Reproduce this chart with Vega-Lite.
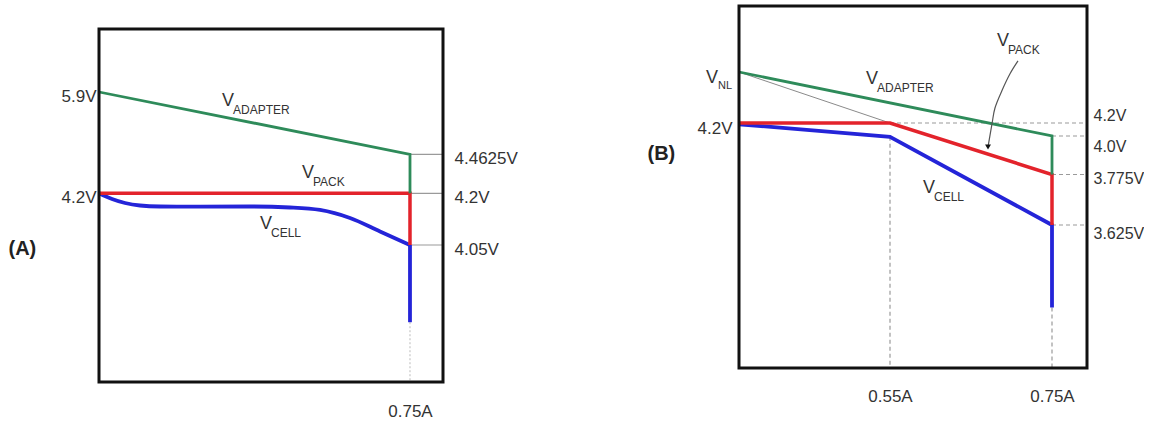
{
  "$schema": "https://vega.github.io/schema/vega-lite/v6.json",
  "padding": {"left": 8, "top": 4, "right": 0, "bottom": 0},
  "background": "white",
  "spacing": 296,
  "bounds": "flush",
  "config": {
    "font": "Liberation Sans, Arial, sans-serif",
    "view": {"stroke": null},
    "axis": {"domain": false, "ticks": false, "tickSize": 0, "grid": false, "labelFontSize": 17, "labelColor": "#333", "labelOverlap": false, "labelFlush": false, "titleColor": "#222"},
    "text": {"color": "#333"}
  },
  "datasets": {
    "frameA": [{"I": 0, "I2": 0.8296, "V": 3.5, "V2": 6.5}],
    "frameB": [{"I": 0, "I2": 0.8, "V": 3.2, "V2": 5.0}],
    "guidesA": [
      {"I": 0.75, "I2": 0.8296, "V": 4.4625, "V2": 4.4625},
      {"I": 0.75, "I2": 0.8296, "V": 4.2, "V2": 4.2},
      {"I": 0.75, "I2": 0.8296, "V": 4.05, "V2": 4.05}
    ],
    "guidesAdot": [{"I": 0.75, "I2": 0.75, "V": 3.74, "V2": 3.5}],
    "guidesB": [
      {"I": 0.55, "I2": 0.8, "V": 4.2, "V2": 4.2},
      {"I": 0.75, "I2": 0.8, "V": 4.0, "V2": 4.0},
      {"I": 0.75, "I2": 0.8, "V": 3.775, "V2": 3.775},
      {"I": 0.75, "I2": 0.8, "V": 3.625, "V2": 3.625},
      {"I": 0.55, "I2": 0.55, "V": 3.995, "V2": 3.2},
      {"I": 0.75, "I2": 0.75, "V": 3.38, "V2": 3.2}
    ],
    "guidesBsolid": [{"I": 0, "I2": 0.55, "V": 4.6, "V2": 4.2}],
    "linesA": [
      {"s": "adapter", "i": 0, "I": 0, "V": 5.9},
      {"s": "adapter", "i": 1, "I": 0.75, "V": 4.4625},
      {"s": "adapter", "i": 2, "I": 0.75, "V": 4.2},
      {"s": "pack", "i": 0, "I": 0, "V": 4.2},
      {"s": "pack", "i": 1, "I": 0.75, "V": 4.2},
      {"s": "pack", "i": 2, "I": 0.75, "V": 4.05},
      {"s": "cell", "i": 0, "I": 0, "V": 4.2},
      {"s": "cell", "i": 1, "I": 0.0314, "V": 4.1835},
      {"s": "cell", "i": 2, "I": 0.0627, "V": 4.1719},
      {"s": "cell", "i": 3, "I": 0.0989, "V": 4.1646},
      {"s": "cell", "i": 4, "I": 0.1471, "V": 4.1617},
      {"s": "cell", "i": 5, "I": 0.2436, "V": 4.1611},
      {"s": "cell", "i": 6, "I": 0.3641, "V": 4.1617},
      {"s": "cell", "i": 7, "I": 0.4606, "V": 4.1588},
      {"s": "cell", "i": 8, "I": 0.533, "V": 4.1516},
      {"s": "cell", "i": 9, "I": 0.6053, "V": 4.1283},
      {"s": "cell", "i": 10, "I": 0.6777, "V": 4.0892},
      {"s": "cell", "i": 11, "I": 0.75, "V": 4.05},
      {"s": "celldrop", "i": 0, "I": 0.75, "V": 4.05},
      {"s": "celldrop", "i": 1, "I": 0.75, "V": 3.74}
    ],
    "linesB": [
      {"s": "adapter", "i": 0, "I": 0, "V": 4.6},
      {"s": "adapter", "i": 1, "I": 0.75, "V": 4.0},
      {"s": "adapter", "i": 2, "I": 0.75, "V": 3.775},
      {"s": "pack", "i": 0, "I": 0, "V": 4.2},
      {"s": "pack", "i": 1, "I": 0.55, "V": 4.2},
      {"s": "pack", "i": 2, "I": 0.75, "V": 3.775},
      {"s": "pack", "i": 3, "I": 0.75, "V": 3.625},
      {"s": "cell", "i": 0, "I": 0, "V": 4.18},
      {"s": "cell", "i": 1, "I": 0.55, "V": 3.995},
      {"s": "cell", "i": 2, "I": 0.75, "V": 3.625},
      {"s": "cell", "i": 3, "I": 0.75, "V": 3.38}
    ],
    "labelsA": [
      {"I": 0.2966, "V": 5.577, "sub": "ADAPTER"},
      {"I": 0.4895, "V": 4.303, "sub": "PACK"},
      {"I": 0.3883, "V": 4.0964, "sub": "CELL"}
    ],
    "labelsB": [
      {"I": 0.4627, "V": 4.506, "sub": "ADAPTER"},
      {"I": 0.6821, "V": 4.7576, "sub": "PACK"},
      {"I": 0.5907, "V": 3.72, "sub": "CELL"}
    ],
    "nlB": [{"I": 0, "V": 4.6, "sub": "NL"}],
    "arrowB": [
      {"i": 0, "I": 0.708, "V": 4.667},
      {"i": 1, "I": 0.698, "V": 4.584},
      {"i": 2, "I": 0.688, "V": 4.451},
      {"i": 3, "I": 0.6796, "V": 4.318},
      {"i": 4, "I": 0.6759, "V": 4.185},
      {"i": 5, "I": 0.671, "V": 3.936}
    ]
  },
  "hconcat": [
    {
      "width": 344,
      "height": 376,
      "encoding": {
        "x": {"field": "I", "type": "quantitative", "scale": {"domain": [0, 0.8296], "nice": false, "zero": false}, "axis": null},
        "y": {"field": "V", "type": "quantitative", "scale": {"domain": [3.5, 4.05, 4.2, 4.4625, 5.9, 6.5, 6.72], "range": [376, 239, 187.3, 148.3, 86, 23, 0], "nice": false, "zero": false}, "axis": null}
      },
      "layer": [
        {
          "data": {"name": "guidesA"},
          "mark": {"type": "rule", "color": "#9a9a9a", "strokeWidth": 1.2},
          "encoding": {
            "x": {"field": "I", "type": "quantitative", "scale": {"domain": [0, 0.8296], "nice": false, "zero": false},
              "axis": {"orient": "bottom", "values": [0.75], "labelExpr": "datum.value + 'A'", "labelPadding": 29, "labelBaseline": "middle", "title": null}},
            "x2": {"field": "I2"},
            "y": {"field": "V", "type": "quantitative", "scale": {"domain": [3.5, 4.05, 4.2, 4.4625, 5.9, 6.5, 6.72], "range": [376, 239, 187.3, 148.3, 86, 23, 0], "nice": false, "zero": false},
              "axis": {"orient": "right", "values": [4.05, 4.2, 4.4625], "labelExpr": "datum.value + 'V'", "labelPadding": 11, "labelOffset": 4, "title": null}},
            "y2": {"field": "V2"}
          }
        },
        {
          "data": {"name": "guidesAdot"},
          "mark": {"type": "rule", "color": "#bbbbbb", "strokeWidth": 1, "strokeDash": [2, 2]},
          "encoding": {"x2": {"field": "I2"}, "y2": {"field": "V2"}}
        },
        {
          "data": {"name": "linesA"},
          "transform": [{"filter": "datum.s == 'cell'"}],
          "mark": {"type": "line", "color": "#2424d8", "strokeWidth": 3.8, "interpolate": "monotone"},
          "encoding": {"order": {"field": "i", "type": "quantitative"}}
        },
        {
          "data": {"name": "linesA"},
          "transform": [{"filter": "datum.s == 'celldrop'"}],
          "mark": {"type": "line", "color": "#2424d8", "strokeWidth": 3.8},
          "encoding": {"order": {"field": "i", "type": "quantitative"}}
        },
        {
          "data": {"name": "linesA"},
          "transform": [{"filter": "datum.s == 'pack'"}],
          "mark": {"type": "line", "color": "#e3232b", "strokeWidth": 3.5},
          "encoding": {"order": {"field": "i", "type": "quantitative"}}
        },
        {
          "data": {"name": "linesA"},
          "transform": [{"filter": "datum.s == 'adapter'"}],
          "mark": {"type": "line", "color": "#2e8b5a", "strokeWidth": 2.8},
          "encoding": {"order": {"field": "i", "type": "quantitative"}}
        },
        {
          "data": {"name": "labelsA"},
          "mark": {"type": "text", "text": "V", "align": "left", "baseline": "alphabetic", "fontSize": 18}
        },
        {
          "data": {"name": "labelsA"},
          "mark": {"type": "text", "align": "left", "baseline": "alphabetic", "fontSize": 12, "dx": 11, "dy": 8},
          "encoding": {"text": {"field": "sub"}}
        },
        {
          "data": {"name": "frameA"},
          "mark": {"type": "rect", "fillOpacity": 0, "stroke": "#111", "strokeWidth": 3},
          "encoding": {
            "x2": {"field": "I2"},
            "y": {"field": "V", "type": "quantitative", "scale": {"domain": [3.5, 4.05, 4.2, 4.4625, 5.9, 6.5, 6.72], "range": [376, 239, 187.3, 148.3, 86, 23, 0], "nice": false, "zero": false},
              "axis": {"orient": "left", "values": [4.2, 5.9], "labelExpr": "datum.value + 'V'", "labelPadding": 3, "labelOffset": 4,
                "title": "(A)", "titleAngle": 0, "titleAlign": "left", "titleBaseline": "middle", "titleX": -91, "titleY": 242, "titleFontSize": 20, "titleFontWeight": "bold"}},
            "y2": {"field": "V2"}
          }
        }
      ],
      "resolve": {"axis": {"x": "independent", "y": "independent"}}
    },
    {
      "width": 348,
      "height": 362,
      "encoding": {
        "x": {"field": "I", "type": "quantitative", "scale": {"domain": [0, 0.55, 0.75, 0.8], "range": [0, 151, 313, 348], "nice": false, "zero": false}, "axis": null},
        "y": {"field": "V", "type": "quantitative", "scale": {"domain": [3.2, 3.625, 3.775, 4.0, 4.2, 4.6, 5.0], "range": [362, 219, 168.5, 130, 117, 66, 0], "nice": false, "zero": false}, "axis": null}
      },
      "layer": [
        {
          "data": {"name": "guidesB"},
          "mark": {"type": "rule", "color": "#9a9a9a", "strokeWidth": 1.2, "strokeDash": [4, 3]},
          "encoding": {
            "x": {"field": "I", "type": "quantitative", "scale": {"domain": [0, 0.55, 0.75, 0.8], "range": [0, 151, 313, 348], "nice": false, "zero": false},
              "axis": {"orient": "bottom", "values": [0.55, 0.75], "labelExpr": "datum.value + 'A'", "labelPadding": 28, "labelBaseline": "middle", "title": null}},
            "x2": {"field": "I2"},
            "y": {"field": "V", "type": "quantitative", "scale": {"domain": [3.2, 3.625, 3.775, 4.0, 4.2, 4.6, 5.0], "range": [362, 219, 168.5, 130, 117, 66, 0], "nice": false, "zero": false},
              "axis": {"orient": "right", "values": [3.625, 3.775, 4.0, 4.2], "labelExpr": "datum.value == 4 ? '4.0V' : datum.value + 'V'", "labelPadding": 6, "labelFontSize": 16,
                "labelOffset": {"condition": [{"test": "datum.value == 4.2", "value": -8}, {"test": "datum.value == 4", "value": 10}, {"test": "datum.value == 3.625", "value": 8}], "value": 4},
                "title": null}},
            "y2": {"field": "V2"}
          }
        },
        {
          "data": {"name": "guidesBsolid"},
          "mark": {"type": "rule", "color": "#8a8a8a", "strokeWidth": 1},
          "encoding": {"x2": {"field": "I2"}, "y2": {"field": "V2"}}
        },
        {
          "data": {"name": "linesB"},
          "transform": [{"filter": "datum.s == 'cell'"}],
          "mark": {"type": "line", "color": "#2424d8", "strokeWidth": 3.8},
          "encoding": {"order": {"field": "i", "type": "quantitative"}}
        },
        {
          "data": {"name": "linesB"},
          "transform": [{"filter": "datum.s == 'pack'"}],
          "mark": {"type": "line", "color": "#e3232b", "strokeWidth": 3.5},
          "encoding": {"order": {"field": "i", "type": "quantitative"}}
        },
        {
          "data": {"name": "linesB"},
          "transform": [{"filter": "datum.s == 'adapter'"}],
          "mark": {"type": "line", "color": "#2e8b5a", "strokeWidth": 2.8},
          "encoding": {"order": {"field": "i", "type": "quantitative"}}
        },
        {
          "data": {"name": "arrowB"},
          "mark": {"type": "line", "color": "#555", "strokeWidth": 1.2, "interpolate": "cardinal"},
          "encoding": {"order": {"field": "i", "type": "quantitative"}}
        },
        {
          "data": {"name": "arrowB"},
          "transform": [{"filter": "datum.i == 5"}],
          "mark": {"type": "point", "shape": "triangle-down", "filled": true, "size": 35, "color": "#111", "opacity": 1}
        },
        {
          "data": {"name": "labelsB"},
          "mark": {"type": "text", "text": "V", "align": "left", "baseline": "alphabetic", "fontSize": 18}
        },
        {
          "data": {"name": "labelsB"},
          "mark": {"type": "text", "align": "left", "baseline": "alphabetic", "fontSize": 12, "dx": 11, "dy": 8},
          "encoding": {"text": {"field": "sub"}}
        },
        {
          "data": {"name": "nlB"},
          "mark": {"type": "text", "text": "V", "align": "left", "baseline": "alphabetic", "fontSize": 18, "dx": -33, "dy": 11}
        },
        {
          "data": {"name": "nlB"},
          "mark": {"type": "text", "align": "left", "baseline": "alphabetic", "fontSize": 11, "dx": -21, "dy": 17},
          "encoding": {"text": {"field": "sub"}}
        },
        {
          "data": {"name": "frameB"},
          "mark": {"type": "rect", "fillOpacity": 0, "stroke": "#111", "strokeWidth": 3},
          "encoding": {
            "x2": {"field": "I2"},
            "y": {"field": "V", "type": "quantitative", "scale": {"domain": [3.2, 3.625, 3.775, 4.0, 4.2, 4.6, 5.0], "range": [362, 219, 168.5, 130, 117, 66, 0], "nice": false, "zero": false},
              "axis": {"orient": "left", "values": [4.2], "labelExpr": "datum.value + 'V'", "labelPadding": 7, "labelOffset": 5,
                "title": "(B)", "titleAngle": 0, "titleAlign": "left", "titleBaseline": "middle", "titleX": -92, "titleY": 147, "titleFontSize": 20, "titleFontWeight": "bold"}},
            "y2": {"field": "V2"}
          }
        }
      ],
      "resolve": {"axis": {"x": "independent", "y": "independent"}}
    }
  ]
}
